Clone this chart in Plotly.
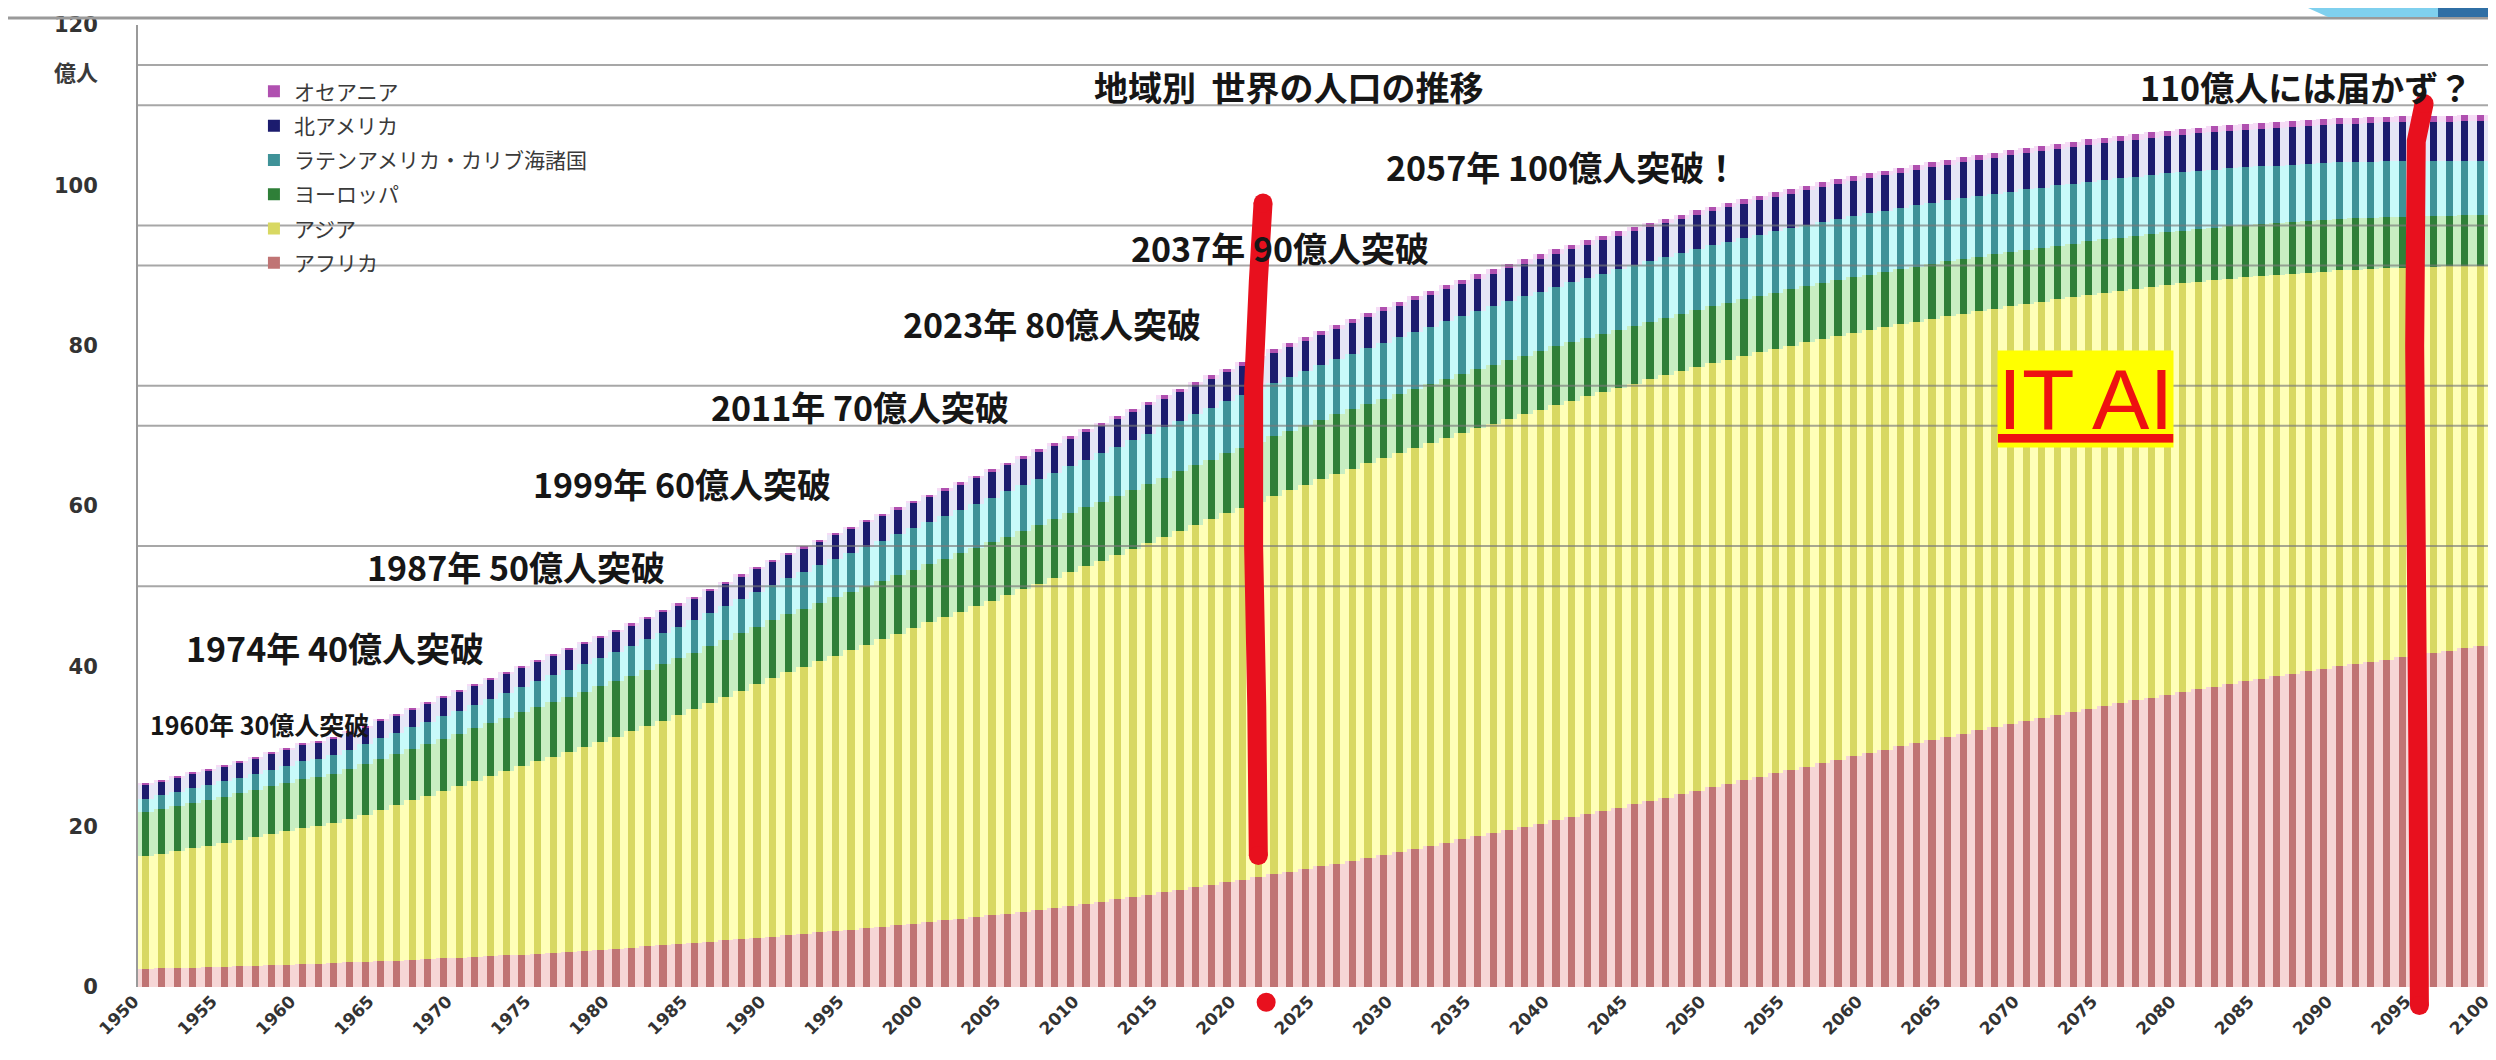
import plotly.graph_objects as go

# ---------------- data (億人) ----------------
years = list(range(1950, 2101))

africa = [
    2.28, 2.33, 2.38, 2.43, 2.48, 2.54, 2.60, 2.66, 2.72, 2.78,
    2.85, 2.92, 2.99, 3.06, 3.14, 3.22, 3.30, 3.39, 3.47, 3.56,
    3.66, 3.76, 3.85, 3.95, 4.05, 4.16, 4.28, 4.40, 4.52, 4.65,
    4.78, 4.92, 5.06, 5.20, 5.35, 5.50, 5.66, 5.81, 5.97, 6.13,
    6.30, 6.47, 6.64, 6.81, 6.99, 7.17, 7.35, 7.53, 7.72, 7.91,
    8.11, 8.31, 8.51, 8.72, 8.94, 9.16, 9.39, 9.63, 9.87, 10.13,
    10.39, 10.66, 10.94, 11.22, 11.52, 11.82, 12.13, 12.44, 12.75, 13.08,
    13.41, 13.73, 14.06, 14.39, 14.72, 15.04, 15.40, 15.76, 16.13, 16.50,
    16.88, 17.26, 17.64, 18.02, 18.41, 18.80, 19.19, 19.59, 19.98, 20.38,
    20.78, 21.18, 21.58, 21.98, 22.38, 22.79, 23.21, 23.63, 24.05, 24.47,
    24.89, 25.33, 25.77, 26.20, 26.64, 27.07, 27.50, 27.93, 28.35, 28.77,
    29.19, 29.60, 30.01, 30.42, 30.82, 31.22, 31.62, 32.02, 32.41, 32.80,
    33.19, 33.56, 33.93, 34.30, 34.67, 35.03, 35.39, 35.75, 36.10, 36.45,
    36.80, 37.13, 37.46, 37.79, 38.11, 38.43, 38.75, 39.06, 39.37, 39.68,
    39.98, 40.27, 40.56, 40.85, 41.13, 41.41, 41.69, 41.97, 42.25, 42.52,
    42.80,
]

asia = [
    14.04, 14.31, 14.58, 14.85, 15.13, 15.41, 15.72, 16.03, 16.35, 16.69,
    17.03, 17.15, 17.42, 17.85, 18.36, 18.91, 19.40, 19.88, 20.37, 20.87,
    21.38, 21.91, 22.44, 22.96, 23.47, 23.98, 24.47, 24.95, 25.44, 25.93,
    26.44, 26.96, 27.49, 28.03, 28.58, 29.14, 29.76, 30.38, 31.00, 31.62,
    32.23, 32.77, 33.30, 33.82, 34.33, 34.83, 35.35, 35.86, 36.37, 36.87,
    37.37, 37.85, 38.32, 38.79, 39.27, 39.74, 40.21, 40.68, 41.14, 41.61,
    42.08, 42.53, 42.98, 43.43, 43.88, 44.32, 44.75, 45.17, 45.59, 46.00,
    46.40, 46.79, 47.17, 47.55, 47.92, 48.29, 48.59, 48.89, 49.18, 49.46,
    49.72, 49.97, 50.21, 50.45, 50.68, 50.90, 51.10, 51.29, 51.47, 51.65,
    51.82, 51.96, 52.10, 52.24, 52.37, 52.49, 52.59, 52.68, 52.77, 52.85,
    52.91, 52.94, 52.96, 52.97, 52.97, 52.95, 52.92, 52.88, 52.84, 52.80,
    52.76, 52.70, 52.64, 52.58, 52.52, 52.46, 52.37, 52.28, 52.19, 52.10,
    52.01, 51.92, 51.83, 51.74, 51.65, 51.55, 51.44, 51.32, 51.20, 51.09,
    50.97, 50.83, 50.69, 50.54, 50.40, 50.25, 50.08, 49.91, 49.74, 49.57,
    49.40, 49.20, 49.00, 48.80, 48.60, 48.39, 48.15, 47.91, 47.67, 47.43,
    47.19,
]

europe = [
    5.49, 5.55, 5.60, 5.66, 5.71, 5.77, 5.83, 5.89, 5.95, 6.00,
    6.06, 6.12, 6.18, 6.24, 6.30, 6.35, 6.40, 6.44, 6.49, 6.53,
    6.57, 6.61, 6.65, 6.69, 6.73, 6.77, 6.81, 6.84, 6.88, 6.91,
    6.94, 6.97, 7.00, 7.03, 7.06, 7.08, 7.11, 7.14, 7.17, 7.19,
    7.21, 7.23, 7.25, 7.27, 7.28, 7.28, 7.28, 7.27, 7.27, 7.26,
    7.26, 7.26, 7.27, 7.27, 7.28, 7.29, 7.30, 7.32, 7.33, 7.35,
    7.36, 7.37, 7.38, 7.39, 7.40, 7.41, 7.43, 7.45, 7.46, 7.47,
    7.48, 7.47, 7.47, 7.46, 7.46, 7.45, 7.44, 7.43, 7.43, 7.42,
    7.41, 7.40, 7.39, 7.38, 7.37, 7.36, 7.35, 7.34, 7.32, 7.31,
    7.30, 7.29, 7.27, 7.26, 7.24, 7.23, 7.20, 7.18, 7.15, 7.13,
    7.10, 7.08, 7.06, 7.04, 7.02, 7.00, 6.98, 6.97, 6.95, 6.94,
    6.92, 6.90, 6.89, 6.87, 6.86, 6.84, 6.82, 6.80, 6.79, 6.77,
    6.75, 6.73, 6.72, 6.70, 6.69, 6.67, 6.65, 6.64, 6.62, 6.61,
    6.59, 6.57, 6.56, 6.54, 6.53, 6.51, 6.49, 6.48, 6.46, 6.45,
    6.43, 6.42, 6.40, 6.39, 6.37, 6.36, 6.35, 6.33, 6.32, 6.31,
    6.30,
]

latin_america = [
    1.69, 1.74, 1.78, 1.83, 1.88, 1.93, 1.98, 2.04, 2.10, 2.15,
    2.21, 2.28, 2.34, 2.41, 2.47, 2.54, 2.61, 2.68, 2.74, 2.81,
    2.88, 2.95, 3.03, 3.10, 3.18, 3.25, 3.33, 3.41, 3.48, 3.56,
    3.64, 3.72, 3.80, 3.89, 3.97, 4.05, 4.13, 4.21, 4.30, 4.38,
    4.46, 4.54, 4.62, 4.71, 4.79, 4.87, 4.95, 5.03, 5.11, 5.18,
    5.26, 5.33, 5.40, 5.48, 5.55, 5.62, 5.68, 5.75, 5.81, 5.88,
    5.94, 6.01, 6.08, 6.15, 6.22, 6.28, 6.33, 6.39, 6.44, 6.49,
    6.54, 6.59, 6.65, 6.70, 6.75, 6.80, 6.85, 6.91, 6.96, 7.01,
    7.06, 7.10, 7.15, 7.19, 7.24, 7.28, 7.31, 7.35, 7.38, 7.41,
    7.44, 7.46, 7.49, 7.51, 7.53, 7.55, 7.56, 7.58, 7.59, 7.61,
    7.62, 7.63, 7.63, 7.64, 7.64, 7.65, 7.65, 7.65, 7.66, 7.66,
    7.66, 7.65, 7.64, 7.64, 7.63, 7.62, 7.60, 7.59, 7.57, 7.56,
    7.54, 7.52, 7.50, 7.48, 7.46, 7.44, 7.42, 7.39, 7.37, 7.34,
    7.32, 7.29, 7.26, 7.24, 7.21, 7.18, 7.15, 7.12, 7.10, 7.07,
    7.04, 7.02, 6.99, 6.97, 6.95, 6.93, 6.90, 6.87, 6.85, 6.82,
    6.80,
]

north_america = [
    1.73, 1.76, 1.78, 1.81, 1.84, 1.87, 1.90, 1.94, 1.97, 2.01,
    2.04, 2.07, 2.10, 2.13, 2.16, 2.19, 2.21, 2.24, 2.26, 2.29,
    2.31, 2.33, 2.35, 2.38, 2.40, 2.42, 2.45, 2.47, 2.50, 2.52,
    2.55, 2.58, 2.61, 2.63, 2.66, 2.69, 2.71, 2.73, 2.76, 2.78,
    2.80, 2.84, 2.88, 2.92, 2.96, 3.00, 3.02, 3.05, 3.07, 3.10,
    3.12, 3.15, 3.18, 3.22, 3.25, 3.28, 3.31, 3.34, 3.37, 3.40,
    3.43, 3.46, 3.49, 3.51, 3.54, 3.57, 3.59, 3.62, 3.64, 3.67,
    3.69, 3.71, 3.74, 3.76, 3.79, 3.81, 3.83, 3.86, 3.88, 3.91,
    3.93, 3.95, 3.97, 3.99, 4.01, 4.03, 4.05, 4.07, 4.08, 4.10,
    4.12, 4.14, 4.15, 4.17, 4.18, 4.20, 4.21, 4.22, 4.23, 4.24,
    4.25, 4.26, 4.27, 4.29, 4.30, 4.31, 4.32, 4.33, 4.35, 4.36,
    4.37, 4.38, 4.40, 4.41, 4.43, 4.44, 4.45, 4.47, 4.48, 4.50,
    4.51, 4.52, 4.54, 4.55, 4.57, 4.58, 4.59, 4.61, 4.62, 4.64,
    4.65, 4.66, 4.68, 4.69, 4.71, 4.72, 4.73, 4.75, 4.76, 4.78,
    4.79, 4.80, 4.81, 4.83, 4.84, 4.85, 4.86, 4.87, 4.89, 4.90,
    4.91,
]

oceania = [
    0.13, 0.13, 0.14, 0.14, 0.14, 0.14, 0.15, 0.15, 0.15, 0.16,
    0.16, 0.16, 0.17, 0.17, 0.17, 0.18, 0.18, 0.19, 0.19, 0.19,
    0.20, 0.20, 0.20, 0.21, 0.21, 0.21, 0.22, 0.22, 0.22, 0.23,
    0.23, 0.23, 0.24, 0.24, 0.24, 0.25, 0.25, 0.26, 0.26, 0.27,
    0.27, 0.27, 0.28, 0.28, 0.29, 0.29, 0.29, 0.30, 0.30, 0.31,
    0.31, 0.31, 0.32, 0.32, 0.33, 0.33, 0.34, 0.35, 0.35, 0.36,
    0.37, 0.37, 0.38, 0.39, 0.39, 0.40, 0.40, 0.41, 0.42, 0.42,
    0.43, 0.43, 0.44, 0.44, 0.45, 0.46, 0.46, 0.47, 0.47, 0.48,
    0.48, 0.49, 0.49, 0.50, 0.50, 0.51, 0.52, 0.52, 0.53, 0.53,
    0.54, 0.54, 0.55, 0.55, 0.56, 0.56, 0.56, 0.56, 0.57, 0.57,
    0.57, 0.58, 0.58, 0.59, 0.59, 0.60, 0.60, 0.61, 0.61, 0.62,
    0.62, 0.62, 0.63, 0.63, 0.64, 0.64, 0.64, 0.65, 0.65, 0.66,
    0.66, 0.66, 0.67, 0.67, 0.68, 0.68, 0.68, 0.69, 0.69, 0.70,
    0.70, 0.70, 0.70, 0.71, 0.71, 0.71, 0.71, 0.72, 0.72, 0.73,
    0.73, 0.73, 0.73, 0.74, 0.74, 0.74, 0.74, 0.74, 0.75, 0.75,
    0.75,
]

region_names = ["アフリカ", "アジア", "ヨーロッパ", "ラテンアメリカ・カリブ海諸国", "北アメリカ", "オセアニア"]
region_values = [africa, asia, europe, latin_america, north_america, oceania]

# captions
milestone_texts = ["1974年 40億人突破", "1987年 50億人突破", "1999年 60億人突破", "2011年 70億人突破",
                   "2023年 80億人突破", "2037年 90億人突破", "2057年 100億人突破！"]
small_caption = "1960年 30億人突破"
title_text = "地域別  世界の人口の推移"
question_text = "110億人には届かず？"
stamp_text = "IT AI"
unit_text = "億人"

# hand-drawn pen strokes (year, value)
pen_a_years = [2021.3, 2021.0, 2020.7, 2020.7, 2020.9, 2021.0]
pen_a_vals = [97.8, 88.0, 75.0, 55.0, 35.0, 16.4]
pen_dot = (2021.5, -1.9)
pen_b_years = [2095.4, 2094.9, 2094.8, 2095.0, 2095.1]
pen_b_vals = [110.2, 105.5, 80.0, 30.0, -2.3]

# ---------------- styling ----------------
light_colors = ["#f6d6d6", "#ffffb8", "#c8eec2", "#c8fafa", "#e6e6f6", "#f6dcf6"]
dark_colors = ["#c07474", "#d8d862", "#2f7f38", "#3f9298", "#1c1c6e", "#b050b0"]

X_RANGE = [1949.5, 2100.5]
Y_RANGE = [0, 120]
M_L, M_R, M_T, M_B = 130, 0, 17, 81

fig = go.Figure()

# light body of each bar (full slot)
for name, vals, col in zip(region_names, region_values, light_colors):
    fig.add_trace(go.Bar(x=years, y=vals, name=name, marker=dict(color=col, line=dict(width=0)),
                         width=1.0, showlegend=False, hoverinfo="skip", xaxis="x", yaxis="y"))

# darker stripe of each bar (stacked separately on an overlaid axis)
n = len(region_names)
for i, (name, vals, col) in enumerate(zip(region_names, region_values, dark_colors)):
    fig.add_trace(go.Bar(x=years, y=vals, name=name, marker=dict(color=col, line=dict(width=0)),
                         width=0.46, legendgroup=f"g{i}", legendrank=n - i, showlegend=True,
                         xaxis="x2", yaxis="y"))

def dx(v):
    return (v - X_RANGE[0]) / (X_RANGE[1] - X_RANGE[0])

def dy(v):
    return (v - Y_RANGE[0]) / (Y_RANGE[1] - Y_RANGE[0])

PLOT_W = 2496 - M_L - M_R
PLOT_H = 1060 - M_T - M_B

shapes = []
# reference lines drawn over the bars
for yv in [50, 55, 70, 75, 90, 95, 110, 115]:
    shapes.append(dict(type="line", xref="x domain", yref="y", x0=0, x1=1, y0=yv, y1=yv,
                       line=dict(color="rgba(120,120,120,0.65)", width=2), layer="above"))

# slide frame line at the very top + corner decoration
shapes.append(dict(type="line", xref="paper", yref="paper", x0=-0.06, x1=1.0,
                   y0=1 + 7 / PLOT_H, y1=1 + 7 / PLOT_H, line=dict(color="#9a9a9a", width=3)))
shapes.append(dict(type="path", xref="paper", yref="paper",
                   path=f"M {(2300-M_L)/PLOT_W} {1+M_T/PLOT_H} L {(2430-M_L)/PLOT_W} {1+M_T/PLOT_H} "
                        f"L {(2430-M_L)/PLOT_W} {1+8/PLOT_H} L {(2320-M_L)/PLOT_W} {1+8/PLOT_H} Z",
                   fillcolor="#7fd0ee", line=dict(width=0)))
shapes.append(dict(type="rect", xref="paper", yref="paper",
                   x0=(2430-M_L)/PLOT_W, x1=1.0, y0=1+8/PLOT_H, y1=1+M_T/PLOT_H,
                   fillcolor="#2f6fa5", line=dict(width=0)))

def stroke(xs, ys):
    p = "M " + " L ".join(f"{dx(a):.5f} {dy(b):.5f}" for a, b in zip(xs, ys))
    return dict(type="path", xref="x domain", yref="y domain", path=p,
                line=dict(color="#e8101e", width=19), layer="above")

shapes.append(stroke(pen_a_years, pen_a_vals))
shapes.append(stroke(pen_b_years, pen_b_vals))
for (a, b) in [(pen_a_years[0], pen_a_vals[0]), (pen_a_years[-1], pen_a_vals[-1]),
               (pen_b_years[0], pen_b_vals[0]), (pen_b_years[-1], pen_b_vals[-1]), pen_dot]:
    shapes.append(dict(type="circle", xref="x domain", yref="y domain", xsizemode="pixel",
                       ysizemode="pixel", xanchor=dx(a), yanchor=dy(b), x0=-9.5, x1=9.5, y0=-9.5, y1=9.5,
                       fillcolor="#e8101e", line=dict(width=0), layer="above"))

# ---------------- annotations ----------------
jp_font = "Noto Sans CJK JP"
cap_font = dict(family=jp_font, size=34, color="#161616", weight="bold")
ann = []
milestone_pos = [(1962.1, 42.3), (1973.6, 52.5), (1984.2, 62.8), (1995.6, 72.4),
                 (2007.8, 82.8), (2022.4, 92.3), (2040.4, 102.4)]
for t, (xp, yp) in zip(milestone_texts, milestone_pos):
    ann.append(dict(text=t, x=xp, y=yp, xref="x", yref="y", showarrow=False,
                    xanchor="center", yanchor="middle", font=cap_font))
ann.append(dict(text=small_caption, x=1964.4, y=32.8, xref="x", yref="y", showarrow=False,
                xanchor="right", yanchor="middle",
                font=dict(family=jp_font, size=25, color="#161616", weight="bold")))
ann.append(dict(text=title_text, x=2022.95, y=112.3, xref="x", yref="y", showarrow=False,
                xanchor="center", yanchor="middle", font=cap_font))
ann.append(dict(text=question_text, x=2098.6, y=112.3, xref="x", yref="y", showarrow=False,
                xanchor="right", yanchor="middle", font=cap_font))
ann.append(dict(text=stamp_text, x=2073.8, y=73.3, xref="x", yref="y", showarrow=False,
                xanchor="center", yanchor="middle", bgcolor="#ffff00", borderpad=0,
                font=dict(family="Liberation Sans", size=86, color="#ee1111", lineposition="under")))
ann.append(dict(text=unit_text, x=-0.026, y=114.3, xref="paper", yref="y", showarrow=False,
                xanchor="center", yanchor="middle",
                font=dict(family=jp_font, size=22, color="#3a3a3a", weight="bold")))

fig.update_layout(
    width=2496, height=1060,
    margin=dict(l=M_L, r=M_R, t=M_T, b=M_B),
    paper_bgcolor="white", plot_bgcolor="white",
    barmode="stack", bargap=0,
    showlegend=True,
    legend=dict(x=0.049, y=0.952, xanchor="left", yanchor="top", traceorder="grouped",
                tracegroupgap=4, bgcolor="rgba(0,0,0,0)",
                font=dict(family=jp_font, size=21, color="#3a3a3a")),
    xaxis=dict(range=X_RANGE, tickmode="linear", tick0=1950, dtick=5, tickangle=-45,
               showgrid=False, zeroline=False, showline=False, ticks="",
               ticklabelshift=-12,
               tickfont=dict(family="DejaVu Sans", size=17, color="#333333", weight="bold")),
    xaxis2=dict(range=X_RANGE, overlaying="x", matches="x", visible=False),
    yaxis=dict(range=Y_RANGE, tickmode="linear", tick0=0, dtick=20, showgrid=False,
               zeroline=False, showline=True, linecolor="#9a9a9a", linewidth=2, ticks="",
               ticklabelstandoff=34,
               tickfont=dict(family="DejaVu Sans", size=21, color="#333333", weight="bold")),
    shapes=shapes,
    annotations=ann,
)

fig.write_html("out.html")
